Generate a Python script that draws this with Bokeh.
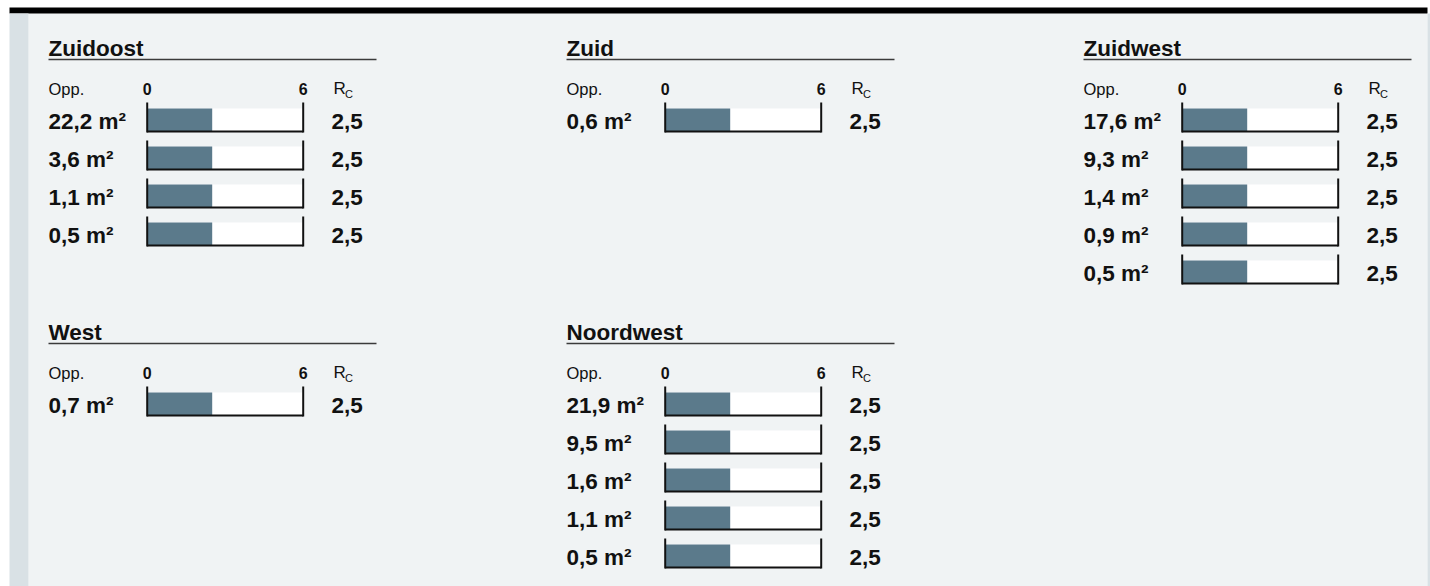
from bokeh.plotting import figure
from bokeh.models import Range1d
from bokeh.core.properties import value
from bokeh.embed import file_html
from bokeh.resources import INLINE

# ---------------- data ----------------
panel_names = ["Zuidoost", "Zuid", "Zuidwest", "West", "Noordwest"]
zuidoost_opp = [22.2, 3.6, 1.1, 0.5]
zuidoost_rc = [2.5, 2.5, 2.5, 2.5]
zuid_opp = [0.6]
zuid_rc = [2.5]
zuidwest_opp = [17.6, 9.3, 1.4, 0.9, 0.5]
zuidwest_rc = [2.5, 2.5, 2.5, 2.5, 2.5]
west_opp = [0.7]
west_rc = [2.5]
noordwest_opp = [21.9, 9.5, 1.6, 1.1, 0.5]
noordwest_rc = [2.5, 2.5, 2.5, 2.5, 2.5]
scale_ticks = [0, 6]
scale_labels = ["0", "6"]
col_header = "Opp."

panel_opp = [zuidoost_opp, zuid_opp, zuidwest_opp, west_opp, noordwest_opp]
panel_rc = [zuidoost_rc, zuid_rc, zuidwest_rc, west_rc, noordwest_rc]

# ---------------- layout / style ----------------
W, H = 1430, 586
BG = "#f0f3f4"
STRIP = "#d9e1e5"
BAR = "#5b7a8b"
INK = "#111111"
FONT = value("Liberation Sans")

col_x = [48, 566, 1083]
row_base = [48, 332]          # title baselines
panel_pos = [(0, 0), (1, 0), (2, 0), (0, 1), (1, 1)]
PANEL_W = 328
BAR_L, BAR_R = 98.7, 254.7    # offsets of scale 0 and scale max
PITCH = 38

p = figure(width=W, height=H, x_range=Range1d(0, W), y_range=Range1d(H, 0),
           output_backend="svg", toolbar_location=None, min_border=0,
           x_axis_location=None, y_axis_location=None)
p.grid.visible = False
p.outline_line_color = None
p.background_fill_color = "white"
p.border_fill_color = "white"

# decorations: panel background, top black bar, side strips
p.quad(left=[28], right=[1427], top=[13], bottom=[H], fill_color=BG, line_color=None)
p.quad(left=[9], right=[1427], top=[7], bottom=[13], fill_color="#000000", line_color=None)
p.quad(left=[9, 1427], right=[28, W], top=[13, 13], bottom=[H, H], fill_color=STRIP, line_color=None)

smax = scale_ticks[-1]
for k, name in enumerate(panel_names):
    ci, ri = panel_pos[k]
    x0 = col_x[ci]
    yb = row_base[ri]
    opp = panel_opp[k]
    rc = panel_rc[k]

    # panel-specific value scale
    L = x0 + BAR_L
    R = x0 + BAR_R
    s = (R - L) / smax
    rname = "scale_%d" % k
    p.extra_x_ranges[rname] = Range1d((0 - L) / s, (W - L) / s)

    # title + rule
    p.text(x=[x0], y=[yb], text=[name], text_font=FONT, text_font_size="22.5px",
           text_font_style="bold", text_baseline="alphabetic", text_color=INK)
    p.segment(x0=[x0], x1=[x0 + PANEL_W], y0=[yb + 11], y1=[yb + 11],
              line_color="#3a3a3a", line_width=1.5)

    # header row
    hy = yb + 40
    p.text(x=[x0], y=[hy], text=[col_header], text_font=FONT, text_font_size="16.5px",
           text_baseline="middle", text_color=INK)
    p.text(x=scale_ticks, y=[hy] * len(scale_ticks), text=scale_labels, text_font=FONT,
           text_font_size="16px", text_font_style="bold", text_align="center",
           text_baseline="middle", text_color=INK, x_range_name=rname)
    p.text(x=[x0 + 285], y=[hy], text=["R"], text_font=FONT, text_font_size="17px",
           text_baseline="middle", text_color=INK)
    p.text(x=[x0 + 296.5], y=[hy + 5.5], text=["C"], text_font=FONT, text_font_size="11px",
           text_baseline="middle", text_color=INK)

    ys = [yb + 71.5 + i * PITCH for i in range(len(opp))]
    n = len(opp)
    # bar background and value
    p.hbar(y=ys, left=[0] * n, right=[smax] * n, height=23, fill_color="white",
           line_color=None, x_range_name=rname)
    p.hbar(y=ys, left=[0] * n, right=rc, height=23, fill_color=BAR,
           line_color=None, x_range_name=rname)
    # frame: side ticks and bottom rule
    for tx in scale_ticks:
        p.segment(x0=[tx] * n, x1=[tx] * n, y0=[y - 17.5 for y in ys], y1=[y + 12.5 for y in ys],
                  line_color=INK, line_width=2, x_range_name=rname)
    p.segment(x0=[0] * n, x1=[smax] * n, y0=[y + 11.5 for y in ys], y1=[y + 11.5 for y in ys],
              line_color=INK, line_width=2, x_range_name=rname)

    # labels
    lab = [("%.1f" % v).replace(".", ",") + " m²" for v in opp]
    p.text(x=[x0] * n, y=[y + 1.5 for y in ys], text=lab, text_font=FONT,
           text_font_size="22.5px", text_font_style="bold", text_baseline="middle",
           text_color=INK)
    rlab = [("%.1f" % v).replace(".", ",") for v in rc]
    p.text(x=[x0 + 283] * n, y=[y + 1.5 for y in ys], text=rlab, text_font=FONT,
           text_font_size="22.5px", text_font_style="bold", text_baseline="middle",
           text_color=INK)

open("out.html", "w").write(file_html(p, INLINE))
